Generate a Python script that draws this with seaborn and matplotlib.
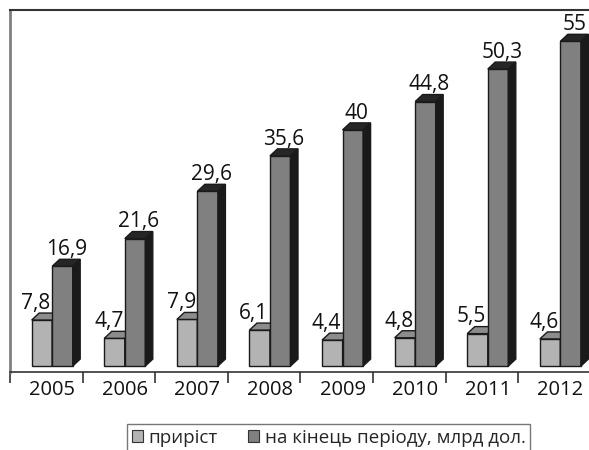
import matplotlib
matplotlib.use("Agg")
import numpy as np
import pandas as pd
import matplotlib.pyplot as plt
import seaborn as sns
from matplotlib.patches import Polygon, Patch

years = ["2005", "2006", "2007", "2008", "2009", "2010", "2011", "2012"]
growth = [7.8, 4.7, 7.9, 6.1, 4.4, 4.8, 5.5, 4.6]
total = [16.9, 21.6, 29.6, 35.6, 40, 44.8, 50.3, 55]
series_names = ["приріст", "на кінець періоду, млрд дол."]

df = pd.DataFrame({
    "year": years + years,
    "value": growth + total,
    "series": [series_names[0]] * len(years) + [series_names[1]] * len(years),
})

front_colors = ["#b3b3b3", "#808080"]
top_colors = ["#8c8c8c", "#262626"]
side_colors = ["#5a5a5a", "#1a1a1a"]

sns.set_style("white")
plt.rcParams["font.family"] = ["Open Sans", "DejaVu Sans"]

fig = plt.figure(figsize=(5.89, 4.5), dpi=100)
ax = fig.add_axes([10 / 589, (450 - 372) / 450, 592 / 589, 362 / 450])

sns.barplot(data=df, x="year", y="value", hue="series", palette=front_colors,
            saturation=1, width=0.565, edgecolor="#1a1a1a", linewidth=1.0,
            legend=False, ax=ax)

x_left = -0.581
ax.set_xlim(x_left, x_left + 592 / 72.6)
ax.set_ylim(-1.0, 60.3)

# depth of the fake 3d faces, in pixels -> data units
p0 = ax.transData.transform((0, 0))
p1 = ax.transData.transform((1, 1))
ddx = 7.5 / (p1[0] - p0[0])
ddy = 7.0 / (p1[1] - p0[1])

n = len(years)
bars = [b for b in ax.patches if b.get_height() > 0]
for k, bar in enumerate(bars):
    s = k // n
    x0, w, h = bar.get_x(), bar.get_width(), bar.get_height()
    bar.set_zorder(2 + 2 * s)
    top = Polygon([(x0, h), (x0 + w, h), (x0 + w + ddx, h + ddy), (x0 + ddx, h + ddy)],
                  closed=True, facecolor=top_colors[s], edgecolor="#1a1a1a",
                  linewidth=1.0, zorder=2.5 + 2 * s)
    side = Polygon([(x0 + w, 0), (x0 + w + ddx, ddy), (x0 + w + ddx, h + ddy), (x0 + w, h)],
                   closed=True, facecolor=side_colors[s], edgecolor="#1a1a1a",
                   linewidth=1.0, zorder=2.5 + 2 * s)
    ax.add_patch(top)
    ax.add_patch(side)
    lbl = f"{h:g}".replace(".", ",")
    if s == 0:
        tx = x0 + w / 2 - 0.08
    else:
        tx = x0 + w / 2 + ddx / 2
    ax.text(tx, h + ddy + 0.7, lbl, ha="center", va="baseline", fontsize=15,
            color="#111111", zorder=10)

ax.set_xlabel("")
ax.set_ylabel("")
ax.set_yticks([])
ax.set_xticks(range(n))
ax.set_xticklabels(years, fontsize=14.5, color="#111111")
ax.set_xticks([x_left + i for i in range(n + 1)], minor=True)
ax.tick_params(axis="x", which="major", length=0, pad=6)
ax.tick_params(axis="x", which="minor", length=8, width=1.2, color="#333333",
               direction="out", bottom=True)

ax.spines["left"].set_color("#808080")
ax.spines["left"].set_linewidth(2)
ax.spines["top"].set_color("#333333")
ax.spines["top"].set_linewidth(1.5)
ax.spines["bottom"].set_color("#333333")
ax.spines["bottom"].set_linewidth(1.2)
ax.spines["right"].set_visible(False)

handles = [Patch(facecolor=front_colors[0], edgecolor="#333333", linewidth=0.8),
           Patch(facecolor=front_colors[1], edgecolor="#333333", linewidth=0.8)]
fig.legend(handles=handles, labels=series_names, loc="upper left",
           bbox_to_anchor=(127 / 589, 1 - 424 / 450), ncol=2, frameon=True,
           fancybox=False, edgecolor="#555555", fontsize=13.5, handlelength=0.6,
           handleheight=0.6, handletextpad=0.3, columnspacing=1.6,
           borderpad=0.25, borderaxespad=0)

fig.savefig("out.png", dpi=100)
